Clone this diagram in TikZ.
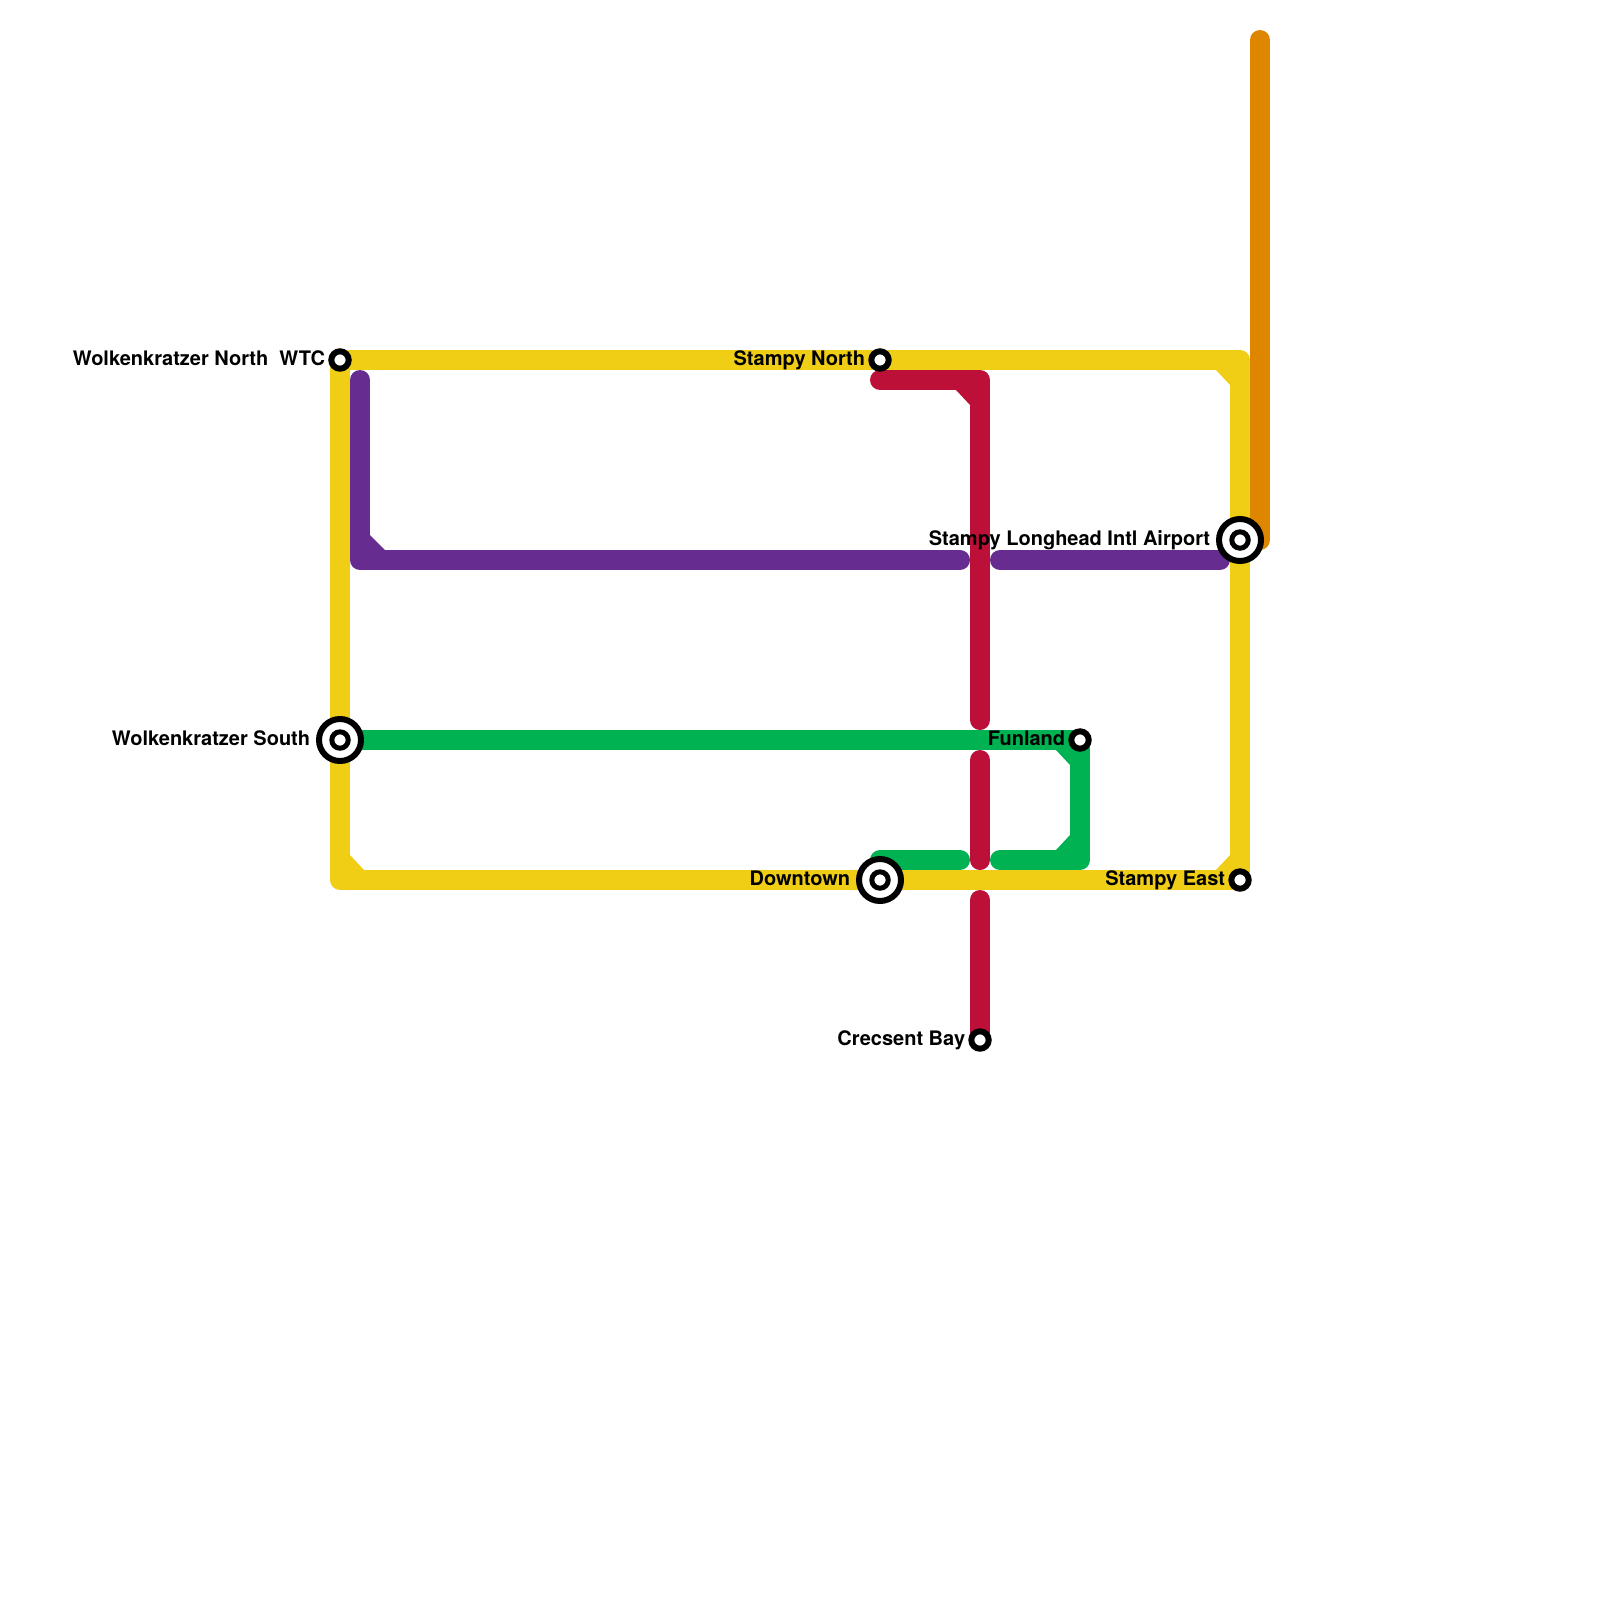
\documentclass[tikz,border=0pt]{standalone}
\usepackage{fontspec}
\setmainfont{TeX Gyre Heros}
\definecolor{lyellow}{HTML}{F0CE15}
\definecolor{lpurple}{HTML}{662C90}
\definecolor{lred}{HTML}{BD1038}
\definecolor{lgreen}{HTML}{00B251}
\definecolor{lorange}{HTML}{DF8600}
\tikzset{
  x=0.5pt,y=-0.5pt,
  metro/.style={line width=10pt,line cap=round,line join=round},
  bevel/.style={line width=0pt},
  stsmall/.style={circle,draw=black,fill=white,line width=3pt,minimum size=8.7pt,inner sep=0pt,outer sep=0pt},
  stinner/.style={circle,draw=black,fill=white,line width=2.5pt,minimum size=8.2pt,inner sep=0pt,outer sep=0pt},
  stbig/.style={circle,draw=black,fill=white,line width=3pt,minimum size=21pt,inner sep=0pt,outer sep=0pt},
  stlabel/.style={anchor=base east,inner sep=0pt,font=\fontsize{10}{12}\selectfont\bfseries,text=black},
}
\begin{document}
\begin{tikzpicture}
\useasboundingbox (0,0) rectangle (1600,1600);
% free ends and corners
\coordinate (oT) at (1260,40);
\coordinate (oB) at (1260,540);
\coordinate (yTR) at (1240,360);
\coordinate (yBL) at (340,880);
\coordinate (pT) at (360,380);
\coordinate (pC) at (360,560);
\coordinate (pE) at (960,560);
\coordinate (pS) at (1000,560);
\coordinate (pF) at (1220,560);
\coordinate (rS) at (880,380);
\coordinate (rC) at (980,380);
\coordinate (rA) at (980,720);
\coordinate (rB) at (980,760);
\coordinate (rD) at (980,860);
\coordinate (rF) at (980,900);
\coordinate (gC) at (1080,860);
\coordinate (gD) at (1000,860);
\coordinate (gE) at (960,860);
\coordinate (gF) at (880,860);
% station positions
\coordinate (wtcP) at (340,360);
\coordinate (snP) at (880,360);
\coordinate (wsP) at (340,740);
\coordinate (dtP) at (880,880);
\coordinate (apP) at (1240,540);
\coordinate (flP) at (1080,740);
\coordinate (seP) at (1240,880);
\coordinate (cbP) at (980,1040);
% orange
\draw[metro,draw=lorange] (oT) -- (oB) -- (apP);
% yellow
\fill[lyellow,bevel] (350,855) -- (364,870) -- (340,880) -- cycle;
\fill[lyellow,bevel] (1216,370) -- (1230,385) -- (1240,360) -- cycle;
\fill[lyellow,bevel] (1230,855) -- (1216,870) -- (1240,880) -- cycle;
\draw[metro,draw=lyellow,line cap=butt] (wtcP) -- (yTR) -- (seP) -- (yBL) -- cycle;
% purple
\fill[lpurple,bevel] (370,535) -- (385,550) -- (360,560) -- cycle;
\draw[metro,draw=lpurple] (pT) -- (pC) -- (pE);
\draw[metro,draw=lpurple] (pS) -- (pF);
% green
\fill[lgreen,bevel] (1056,750) -- (1070,765) -- (1080,740) -- cycle;
\fill[lgreen,bevel] (1070,835) -- (1056,850) -- (1080,860) -- cycle;
\draw[metro,draw=lgreen] (wsP) -- (flP) -- (gC) -- (gD);
\draw[metro,draw=lgreen] (gE) -- (gF);
% red
\fill[lred,bevel] (956,390) -- (970,405) -- (980,380) -- cycle;
\draw[metro,draw=lred] (rS) -- (rC) -- (rA);
\draw[metro,draw=lred] (rB) -- (rD);
\draw[metro,draw=lred] (rF) -- (cbP);
% stations
\node[stsmall] (wtc) at (wtcP) {};
\node[stsmall] (sn) at (snP) {};
\node[stsmall] (fl) at (flP) {};
\node[stsmall] (se) at (seP) {};
\node[stsmall] (cb) at (cbP) {};
\node[stbig] (ws) at (wsP) {};
\node[stbig] (dt) at (dtP) {};
\node[stbig] (ap) at (apP) {};
\node[stinner] (wsi) at (wsP) {};
\node[stinner] (dti) at (dtP) {};
\node[stinner] (api) at (apP) {};
% labels
\node[stlabel] (l1) at (325.5,365) {Wolkenkratzer North\ \ WTC};
\node[stlabel] (l2) at (865.5,365) {Stampy North};
\node[stlabel] (l3) at (310.5,745) {Wolkenkratzer South};
\node[stlabel] (l4) at (850.5,885) {Downtown};
\node[stlabel] (l5) at (1210.5,545) {Stampy Longhead Intl Airport};
\node[stlabel] (l6) at (1065.5,745) {Funland};
\node[stlabel] (l7) at (1225.5,885) {Stampy East};
\node[stlabel] (l8) at (965.5,1045) {Crecsent Bay};
\end{tikzpicture}
\end{document}
